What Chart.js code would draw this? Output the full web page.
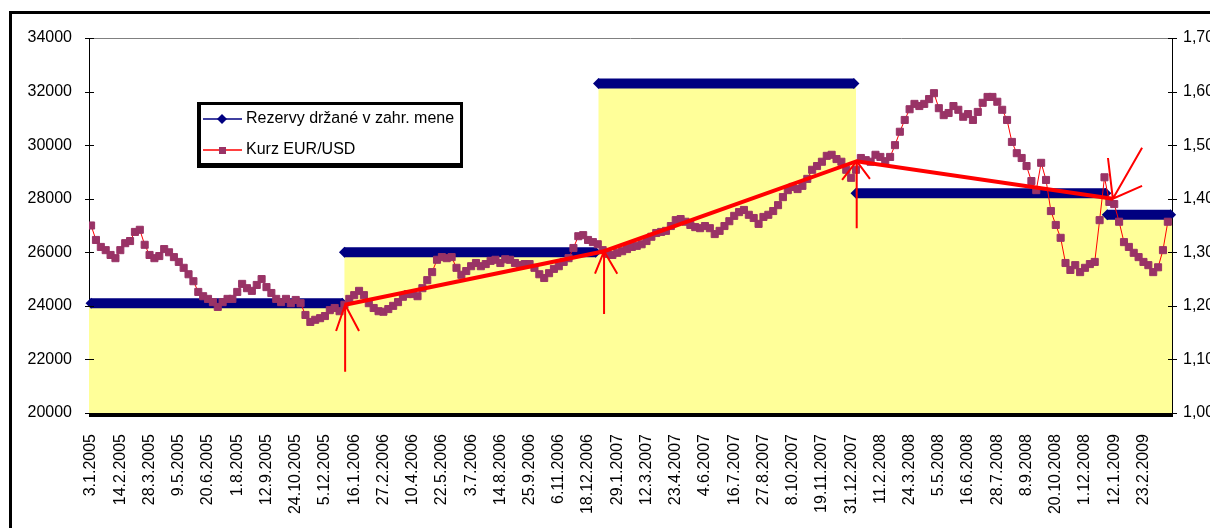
<!DOCTYPE html>
<html>
<head>
<meta charset="utf-8">
<script src="https://cdn.jsdelivr.net/npm/chart.js@4.4.1/dist/chart.umd.min.js"></script>
<style>
  html, body { margin: 0; padding: 0; background: #fff; }
  canvas { display: block; }
</style>
</head>
<body>
<canvas id="chart" width="1210" height="528"></canvas>
<script>
// Category labels on the time axis (every 42 days)
const tickLabels = [
  '3.1.2005','14.2.2005','28.3.2005','9.5.2005','20.6.2005','1.8.2005','12.9.2005','24.10.2005','5.12.2005',
  '16.1.2006','27.2.2006','10.4.2006','22.5.2006','3.7.2006','14.8.2006','25.9.2006','6.11.2006','18.12.2006',
  '29.1.2007','12.3.2007','23.4.2007','4.6.2007','16.7.2007','27.8.2007','8.10.2007','19.11.2007','31.12.2007',
  '11.2.2008','24.3.2008','5.5.2008','16.6.2008','28.7.2008','8.9.2008','20.10.2008','1.12.2008',
  '12.1.2009','23.2.2009'
];

// Foreign-currency reserves, one level per year (left axis)
const reserveStart = ['3.1.2005', '2.1.2006', '2.1.2007', '7.1.2008', '2.1.2009'];
const reserveEnd   = ['30.12.2005', '29.12.2006', '4.1.2008', '31.12.2008', '3.4.2009'];
const reserveValue = [24100, 26000, 32300, 28200, 27400];

// EUR/USD, weekly readings on Mondays starting 3.1.2005 (right axis)
const rateStart = '3.1.2005';
const weeklyRate = [
  1.350,1.323,1.310,1.304,1.295,1.289,1.304,1.317,1.321,1.338,1.342,1.314,1.295,1.289,1.293,1.306,1.300,1.291,1.282,1.271,
  1.259,1.246,1.226,1.218,1.213,1.207,1.198,1.207,1.213,1.213,1.226,1.241,1.233,1.228,1.239,1.250,1.235,1.224,1.213,1.207,
  1.213,1.205,1.211,1.205,1.183,1.170,1.174,1.177,1.181,1.192,1.196,1.190,1.202,1.213,1.220,1.228,1.220,1.205,1.196,1.190,
  1.189,1.194,1.200,1.207,1.217,1.222,1.222,1.218,1.233,1.248,1.263,1.286,1.291,1.289,1.291,1.271,1.258,1.265,1.274,1.280,
  1.274,1.278,1.284,1.286,1.280,1.287,1.286,1.280,1.276,1.278,1.278,1.271,1.259,1.252,1.261,1.269,1.274,1.282,1.289,1.308,
  1.330,1.332,1.323,1.319,1.315,1.304,1.297,1.295,1.299,1.302,1.306,1.310,1.312,1.315,1.321,1.329,1.336,1.338,1.340,1.349,
  1.360,1.362,1.357,1.351,1.347,1.345,1.349,1.345,1.334,1.340,1.349,1.358,1.368,1.375,1.379,1.370,1.364,1.353,1.366,1.370,
  1.377,1.388,1.403,1.416,1.422,1.418,1.424,1.437,1.454,1.461,1.469,1.480,1.482,1.474,1.469,1.454,1.439,1.454,1.476,1.472,
  1.469,1.482,1.478,1.470,1.478,1.500,1.525,1.547,1.567,1.577,1.573,1.577,1.586,1.597,1.569,1.556,1.560,1.573,1.566,1.553,
  1.558,1.547,1.562,1.579,1.590,1.590,1.581,1.566,1.547,1.506,1.485,1.476,1.461,1.433,1.416,1.467,1.435,1.377,1.351,1.327,
  1.280,1.267,1.276,1.263,1.271,1.278,1.282,1.360,1.440,1.394,1.390,1.357,1.319,1.310,1.299,1.291,1.282,1.276,1.263,1.272,
  1.304,1.357
];

// Hand-drawn trend through the early-January turning points
const trendDates = ['3.1.2006', '10.1.2007', '8.1.2008', '10.1.2009'];
const trendRates = [1.202, 1.302, 1.470, 1.400];

// Arrows: [tail, tip, barb A, barb B], each [date, rate]
const arrowShapes = [
  [['3.1.2006', 1.077], ['3.1.2006', 1.202], ['21.12.2005', 1.153], ['23.1.2006', 1.153]],
  [['10.1.2007', 1.185], ['10.1.2007', 1.302], ['28.12.2006', 1.260], ['29.1.2007', 1.260]],
  [['8.1.2008', 1.345], ['8.1.2008', 1.470], ['18.12.2007', 1.435], ['27.1.2008', 1.437]],
  [['21.2.2009', 1.495], ['10.1.2009', 1.400], ['3.1.2009', 1.476], ['21.2.2009', 1.424]]
];

// Axis bounds (days since 3.1.2005)
const X_MIN = -3, X_MAX = 1553;

const DAY_MS = 86400000;
const BASE = Date.UTC(2005, 0, 3);
function dayOf(s) {
  const [d, m, y] = s.split('.').map(Number);
  return Math.round((Date.UTC(y, m - 1, d) - BASE) / DAY_MS);
}

const tickDays = tickLabels.map(dayOf);
const labelByDay = {};
tickDays.forEach((d, i) => { labelByDay[d] = tickLabels[i]; });

const rateOffset = dayOf(rateStart);
const ratePoints = weeklyRate.map((v, i) => ({ x: rateOffset + 7 * i, y: v }));

// one separate bar per year, broken between years
const bandPoints = [];
reserveValue.forEach((v, i) => {
  const end = dayOf(reserveEnd[i]);
  bandPoints.push({ x: dayOf(reserveStart[i]), y: v });
  bandPoints.push({ x: end, y: v });
  bandPoints.push({ x: end, y: null });
});

const fillPoints = reserveValue.map((v, i) => ({ x: i === 0 ? X_MIN : dayOf(reserveStart[i]), y: v }));
fillPoints.push({ x: X_MAX, y: reserveValue[reserveValue.length - 1] });

const trendPoints = trendDates.map((d, i) => ({ x: dayOf(d), y: trendRates[i] }));

const arrowPoints = [];
arrowShapes.forEach(([tail, tip, a, b]) => {
  const p = ([d, v]) => ({ x: dayOf(d), y: v });
  arrowPoints.push(p(tail), p(tip), { x: dayOf(tip[0]), y: null });
  arrowPoints.push(p(a), p(tip), p(b), { x: dayOf(tip[0]), y: null });
});

const FONT = '"Liberation Sans", Arial, sans-serif';
Chart.defaults.font.family = FONT;
Chart.defaults.font.size = 16;
Chart.defaults.color = '#000';

const decorations = {
  id: 'decorations',
  beforeDraw(chart) {
    const c = chart.ctx;
    c.save();
    c.fillStyle = '#fff';
    c.fillRect(0, 0, chart.width, chart.height);
    c.restore();
  },
  afterDraw(chart) {
    const c = chart.ctx;
    const a = chart.chartArea;
    c.save();
    // plot area top edge
    c.strokeStyle = '#808080';
    c.lineWidth = 1;
    c.beginPath();
    c.moveTo(a.left, a.top + 0.5);
    c.lineTo(a.right, a.top + 0.5);
    c.stroke();
    // heavy category axis line
    c.fillStyle = '#000';
    c.fillRect(a.left, a.bottom, a.right - a.left + 1, 4);
    // crossing tick marks on both value axes
    c.strokeStyle = '#000';
    c.lineWidth = 1;
    [['y', a.left], ['y2', a.right]].forEach(([id, x0]) => {
      const s = chart.scales[id];
      s.ticks.forEach(t => {
        const y = Math.round(s.getPixelForValue(t.value)) + 0.5;
        c.beginPath();
        c.moveTo(x0 - 4, y);
        c.lineTo(x0 + 5, y);
        c.stroke();
      });
    });
    // outer chart frame
    c.lineWidth = 3;
    c.strokeRect(10.5, 12.5, 1400, 700);
    // legend
    c.fillStyle = '#000';
    c.fillRect(197, 102, 266, 66);
    c.fillStyle = '#fff';
    c.fillRect(201, 105, 259, 58);
    c.lineWidth = 1.5;
    c.strokeStyle = '#000080';
    c.beginPath(); c.moveTo(203, 119); c.lineTo(242, 119); c.stroke();
    c.fillStyle = '#000080';
    c.beginPath(); c.moveTo(222, 114); c.lineTo(227, 119); c.lineTo(222, 124); c.lineTo(217, 119); c.closePath(); c.fill();
    c.strokeStyle = '#ff0000';
    c.beginPath(); c.moveTo(203, 150); c.lineTo(242, 150); c.stroke();
    c.fillStyle = '#993366';
    c.fillRect(219, 147, 7, 7);
    c.fillStyle = '#000';
    c.font = '16px ' + FONT;
    c.textBaseline = 'middle';
    c.textAlign = 'left';
    c.fillText('Rezervy držané v zahr. mene', 246, 119);
    c.fillText('Kurz EUR/USD', 246, 150);
    c.restore();
  }
};

new Chart(document.getElementById('chart'), {
  type: 'line',
  data: {
    datasets: [
      {
        label: 'Trend',
        data: trendPoints,
        yAxisID: 'y2',
        borderColor: '#ff0000',
        borderWidth: 4,
        pointRadius: 0,
        fill: false,
        order: 0
      },
      {
        label: 'Šípky',
        data: arrowPoints,
        yAxisID: 'y2',
        borderColor: '#ff0000',
        borderWidth: 2,
        pointRadius: 0,
        spanGaps: false,
        fill: false,
        order: 0
      },
      {
        label: 'Kurz EUR/USD',
        data: ratePoints,
        yAxisID: 'y2',
        borderColor: '#ff0000',
        borderWidth: 1,
        pointStyle: 'rect',
        pointRadius: 5,
        pointBackgroundColor: '#993366',
        pointBorderColor: '#993366',
        pointBorderWidth: 1,
        fill: false,
        order: 1
      },
      {
        label: 'Rezervy držané v zahr. mene',
        data: bandPoints,
        yAxisID: 'y',
        borderColor: '#000080',
        borderWidth: 10,
        borderCapStyle: 'butt',
        spanGaps: false,
        pointStyle: 'rectRot',
        pointRadius: 5.5,
        pointBackgroundColor: '#000080',
        pointBorderColor: '#000080',
        pointBorderWidth: 0,
        fill: false,
        clip: 8,
        order: 2
      },
      {
        label: 'Rezervy (plocha)',
        data: fillPoints,
        yAxisID: 'y',
        stepped: 'before',
        fill: 'start',
        backgroundColor: '#ffff99',
        borderColor: 'rgba(0,0,0,0)',
        borderWidth: 0,
        pointRadius: 0,
        order: 3
      }
    ]
  },
  options: {
    responsive: false,
    animation: false,
    events: [],
    layout: { padding: { top: 38, left: 0, right: 0, bottom: 0 } },
    plugins: {
      legend: { display: false },
      tooltip: { enabled: false }
    },
    scales: {
      x: {
        type: 'linear',
        min: X_MIN,
        max: X_MAX,
        afterBuildTicks: s => { s.ticks = tickDays.map(v => ({ value: v })); },
        afterFit: s => { s.height = 115; },
        grid: { display: false },
        border: { display: false },
        ticks: {
          autoSkip: false,
          maxRotation: 90,
          minRotation: 90,
          padding: 13,
          font: { size: 16 },
          callback: v => labelByDay[v] || ''
        }
      },
      y: {
        position: 'left',
        min: 20000,
        max: 34000,
        afterFit: s => { s.width = 89; },
        grid: { drawOnChartArea: false, drawTicks: false },
        border: { color: '#000', width: 1 },
        ticks: {
          stepSize: 2000,
          padding: 17,
          font: { size: 16 },
          callback: v => String(v)
        }
      },
      y2: {
        position: 'right',
        min: 1,
        max: 1.7,
        afterFit: s => { s.width = 38; },
        grid: { drawOnChartArea: false, drawTicks: false },
        border: { color: '#000', width: 1 },
        ticks: {
          stepSize: 0.1,
          padding: 11,
          font: { size: 16 },
          callback: v => v.toFixed(2).replace('.', ',')
        }
      }
    }
  },
  plugins: [decorations]
});
</script>
</body>
</html>
